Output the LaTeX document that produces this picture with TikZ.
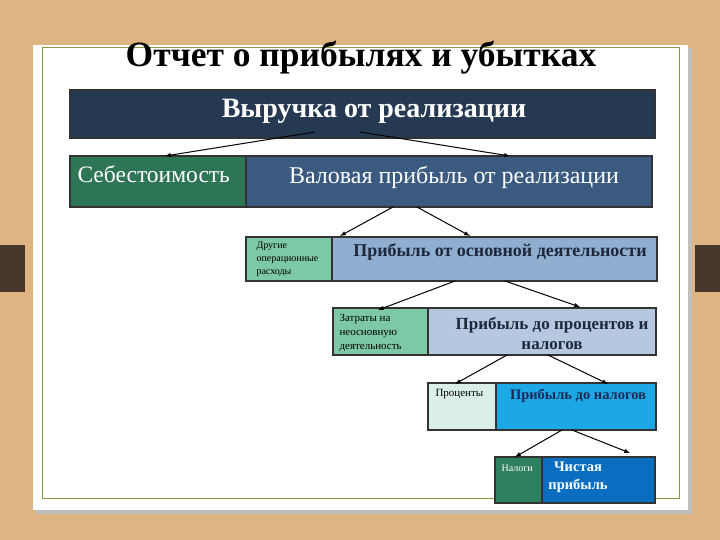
\documentclass[tikz,border=0pt]{standalone}
\usepackage{fontspec}
\setmainfont{Liberation Serif}
\begin{document}
\begin{tikzpicture}[x=1pt,y=-1pt,
  bx/.style={draw=black!80,line width=1.2pt,inner sep=0pt},
  ar/.style={-latex,line width=1pt}]
\useasboundingbox (0,0) rectangle (720,540);
\fill[color={rgb,255:red,222;green,180;blue,130}] (0,0) rectangle (720,540);
\fill[black!25] (36,48) rectangle (692,514);
\fill[white] (33,45) rectangle (688,510);
\draw[color={rgb,255:red,140;green,150;blue,60},line width=0.8pt] (42,47) rectangle (679,498);
\fill[color={rgb,255:red,70;green,55;blue,45}] (0,245) rectangle (25,292);
\fill[color={rgb,255:red,70;green,55;blue,45}] (695,245) rectangle (720,292);
\node (title) at (361,58) {\fontsize{35.5}{38}\selectfont\bfseries Отчет о прибылях и убытках};
% boxes
\node[bx,fill={rgb,255:red,37;green,58;blue,82},minimum width=585,minimum height=48] (v) at (362.5,114) {};
\node[text=white] (vt) at (374,111) {\fontsize{28}{32}\selectfont\bfseries Выручка от реализации};
\node[bx,fill={rgb,255:red,46;green,117;blue,86},minimum width=176,minimum height=51] (s) at (158,181.5) {};
\node[text=white,anchor=north west] (st) at (74,162) {\fontsize{23.5}{28}\selectfont Себестоимость};
\node[bx,fill={rgb,255:red,58;green,90;blue,128},minimum width=406,minimum height=51] (g) at (449,181.5) {};
\node[text=white] (gt) at (454,177) {\fontsize{24}{28}\selectfont Валовая прибыль от реализации};
\node[bx,fill={rgb,255:red,125;green,201;blue,165},minimum width=86,minimum height=44] (o) at (289,259) {};
\node[anchor=north west,align=left,font=\fontsize{10}{13}\selectfont] (ot) at (253,238) {Другие\\операционные\\расходы};
\node[bx,fill={rgb,255:red,143;green,174;blue,208},minimum width=325,minimum height=44] (p) at (494.5,259) {};
\node[text={rgb,255:red,30;green,40;blue,60}] (pt) at (500,252) {\fontsize{18}{22}\selectfont\bfseries Прибыль от основной деятельности};
\node[bx,fill={rgb,255:red,125;green,201;blue,165},minimum width=95,minimum height=47] (z) at (380.5,331.5) {};
\node[anchor=north west,align=left,font=\fontsize{11}{14}\selectfont] (zt) at (336,311) {Затраты на\\неосновную\\деятельность};
\node[bx,fill={rgb,255:red,182;green,200;blue,224},minimum width=228,minimum height=47] (q) at (542,331.5) {};
\node[align=center,text={rgb,255:red,30;green,40;blue,60},font=\fontsize{17}{20}\selectfont\bfseries] (qt) at (552,333) {Прибыль до процентов и\\налогов};
\node[bx,fill={rgb,255:red,217;green,239;blue,232},minimum width=68,minimum height=47] (r) at (462,406.5) {};
\node[anchor=north west,font=\fontsize{11}{13}\selectfont] (rt) at (432,386) {Проценты};
\node[bx,fill={rgb,255:red,28;green,168;blue,230},minimum width=160,minimum height=47] (t) at (576,406.5) {};
\node[text={rgb,255:red,30;green,40;blue,80}] (tt) at (578,396) {\fontsize{14.5}{17}\selectfont\bfseries Прибыль до налогов};
\node[bx,fill={rgb,255:red,47;green,127;blue,97},minimum width=47,minimum height=46] (n) at (518.5,480) {};
\node[anchor=north west,text=white,font=\fontsize{10}{12}\selectfont] (nt) at (498,461) {Налоги};
\node[bx,fill={rgb,255:red,10;green,110;blue,192},minimum width=113,minimum height=46] (c) at (598.5,480) {};
\node[align=center,text=white,font=\fontsize{14.5}{18}\selectfont\bfseries] (ct) at (578,477) {Чистая\\прибыль};
% arrows
\coordinate (a1) at (315,132); \coordinate (a1e) at (165,156);
\coordinate (a2) at (360,132); \coordinate (a2e) at (510,156);
\draw[ar] (a1) -- (a1e); \draw[ar] (a2) -- (a2e);
\coordinate (b1) at (393,207); \coordinate (b1e) at (340,236);
\coordinate (b2) at (417,207); \coordinate (b2e) at (470,236);
\draw[ar] (b1) -- (b1e); \draw[ar] (b2) -- (b2e);
\coordinate (c1) at (455,281); \coordinate (c1e) at (378,310);
\coordinate (c2) at (505,281); \coordinate (c2e) at (580,307);
\draw[ar] (c1) -- (c1e); \draw[ar] (c2) -- (c2e);
\coordinate (d1) at (507,355); \coordinate (d1e) at (455,384);
\coordinate (d2) at (548,355); \coordinate (d2e) at (608,384);
\draw[ar] (d1) -- (d1e); \draw[ar] (d2) -- (d2e);
\coordinate (e1) at (562,430); \coordinate (e1e) at (515,457);
\coordinate (e2) at (572,430); \coordinate (e2e) at (630,453);
\draw[ar] (e1) -- (e1e); \draw[ar] (e2) -- (e2e);
\end{tikzpicture}
\end{document}
